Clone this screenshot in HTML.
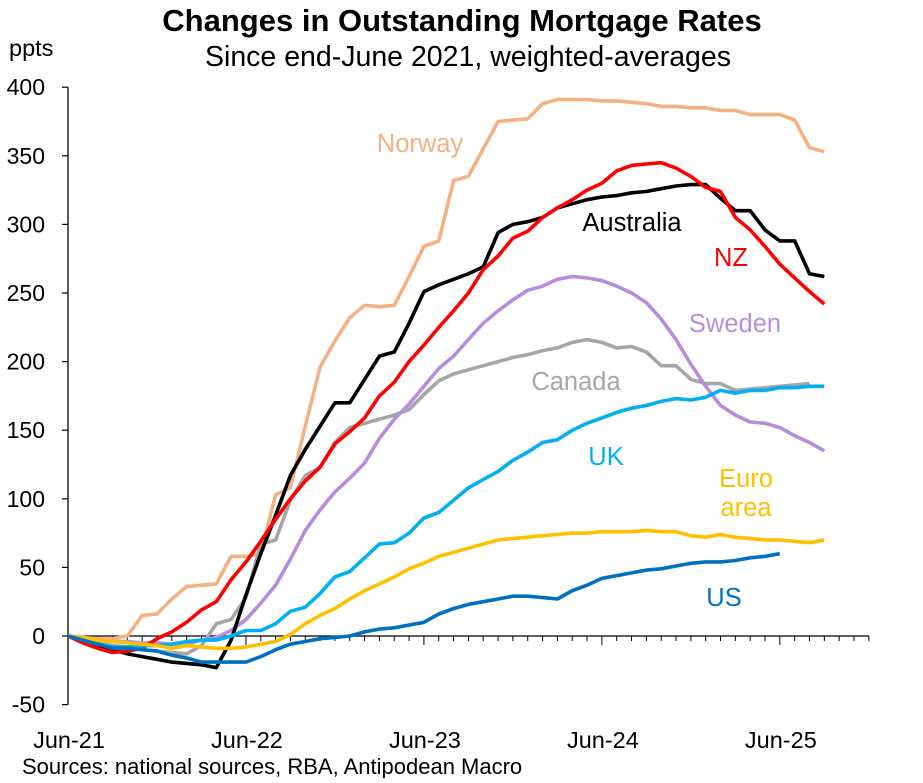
<!DOCTYPE html>
<html><head><meta charset="utf-8"><style>
body{margin:0;background:#fff;}
svg text{font-family:"Liberation Sans",Arial,sans-serif;}
</style></head><body>
<svg id="chart" width="923" height="778" viewBox="0 0 923 778" xmlns="http://www.w3.org/2000/svg">
<text x="462" y="31" text-anchor="middle" font-size="31" font-weight="bold">Changes in Outstanding Mortgage Rates</text>
<text x="468" y="66" text-anchor="middle" font-size="28.5">Since end-June 2021, weighted-averages</text>
<text x="9" y="56" font-size="23.5">ppts</text>
<g id="axes"></g>
<g id="series"></g>
<text x="22" y="774" font-size="22">Sources: national sources, RBA, Antipodean Macro</text>
</svg>
<script>
const yTicks=[-50,0,50,100,150,200,250,300,350,400];
const xTickLabels=["Jun-21","Jun-22","Jun-23","Jun-24","Jun-25"];
const xTickIndex=[0,12,24,36,48];
const norway=[0,-1,-2,-2,0,15,16,27,36,37,38,58,58,60,103,108,153,196,215,232,241,240,241,262,284,288,332,335,355,375,376,377,388,391,391,391,390,390,389,388,386,386,385,385,383,383,380,380,380,376,356,353];
const australia=[0,-4,-7,-10,-13,-15,-17,-19,-20,-21,-23,-3,30,60,88,117,136,153,170,170,187,204,207,228,251,256,260,264,269,294,300,302,305,312,315,318,320,321,323,324,326,328,329,329,319,310,310,296,288,288,264,262];
const nz=[0,-5,-9,-12,-11,-9,-2,3,10,19,25,41,54,69,85,100,113,123,140,149,159,175,185,200,212,225,237,250,267,277,290,295,305,312,318,325,330,339,343,344,345,341,335,327,324,305,296,284,271,261,251,242];
const sweden=[0,-1,-3,-4,-4,-5,-5,-6,-6,-3,-1,4,12,24,37,56,77,92,105,115,126,144,158,169,182,195,204,216,228,237,245,252,255,260,262,261,259,255,250,243,231,216,198,182,168,161,156,155,152,146,141,135];
const canada=[0,-2,-5,-7,-8,-10,-11,-12,-13,-7,9,12,28,67,70,99,117,123,141,152,155,158,161,165,176,186,191,194,197,200,203,205,208,210,214,216,214,210,211,207,197,197,187,184,184,179,180,181,182,183,184];
const uk=[0,-3,-6,-8,-8,-7,-7,-6,-4,-3,-3,0,4,4,9,18,21,31,43,47,57,67,68,75,86,90,99,108,114,120,128,134,141,143,150,155,159,163,166,168,171,173,172,174,179,177,179,179,181,181,182,182];
const euro=[0,-1,-3,-4,-5,-6,-7,-9,-7,-8,-9,-9,-8,-6,-4,1,9,15,20,27,33,38,43,49,53,58,61,64,67,70,71,72,73,74,75,75,76,76,76,77,76,76,73,72,74,72,71,70,70,69,68,70];
const us=[0,-3,-6,-9,-9,-10,-11,-14,-16,-19,-19,-19,-19,-15,-10,-6,-4,-2,-1,0,3,5,6,8,10,16,20,23,25,27,29,29,28,27,33,37,42,44,46,48,49,51,53,54,54,55,57,58,60];
const seriesList=[
 {name:"norway",data:norway,color:"#F4B183"},
 {name:"canada",data:canada,color:"#A6A6A6"},
 {name:"sweden",data:sweden,color:"#B48EDC"},
 {name:"australia",data:australia,color:"#000000"},
 {name:"nz",data:nz,color:"#FF0000"},
 {name:"uk",data:uk,color:"#00B0F0"},
 {name:"euro-area",data:euro,color:"#FFC000"},
 {name:"us",data:us,color:"#0070C0"}];
const labels=[
 {t:"Norway",x:420,y:152,c:"#F4B183"},{t:"Australia",x:632,y:231,c:"#000"},
 {t:"NZ",x:731,y:266,c:"#FF0000"},{t:"Sweden",x:735,y:332,c:"#B48EDC"},
 {t:"Canada",x:576,y:390,c:"#A6A6A6"},{t:"UK",x:606,y:465,c:"#00B0F0"},
 {t:"Euro",x:746,y:487,c:"#FFC000"},{t:"area",x:746,y:516,c:"#FFC000"},
 {t:"US",x:724,y:606,c:"#0070C0"}];
const NS="http://www.w3.org/2000/svg";
function X(i){return 68+i*14.83;}
function Y(v){return 636-v*1.372;}
function mk(tag,attrs,parent){const e=document.createElementNS(NS,tag);for(const k in attrs)e.setAttribute(k,attrs[k]);parent.appendChild(e);return e;}
const axes=document.getElementById('axes');
const ya=mk('line',{x1:68,y1:Y(400),x2:68,y2:Y(-50),stroke:"#000","stroke-width":1.3},axes);


yTicks.forEach(v=>{
 const t=mk('line',{x1:62,y1:Y(v),x2:68,y2:Y(v),stroke:"#000","stroke-width":1.2},axes);
 
 
 const l=mk('text',{x:45,y:Y(v)+8,"text-anchor":"end","font-size":23},axes);
 l.textContent=v;
 
 
});
const xa=mk('line',{x1:68,y1:636,x2:869,y2:636,stroke:"#000","stroke-width":1.3},axes);


for(let i=0;i<=54;i++){
 const t=mk('line',{x1:X(i),y1:636,x2:X(i),y2:(i%12===0?645:641),stroke:"#000","stroke-width":1},axes);
 
 
}
xTickLabels.forEach((s,k)=>{
 const l=mk('text',{x:X(xTickIndex[k])+1,y:748,"text-anchor":"middle","font-size":23.5},axes);
 l.textContent=s;
 
 
});
const sg=document.getElementById('series');
seriesList.forEach(s=>{
 const p=mk('polyline',{points:s.data.map((v,i)=>X(i).toFixed(1)+","+Y(v).toFixed(1)).join(" "),fill:"none",stroke:s.color,"stroke-width":3.6,"stroke-linejoin":"round"},sg);
 
 
});
labels.forEach(L=>{
 const t=mk('text',{x:L.x,y:L.y,"text-anchor":"middle","font-size":25.5,fill:L.c},sg);
 t.textContent=L.t;
 
 
});
</script>
</body></html>
